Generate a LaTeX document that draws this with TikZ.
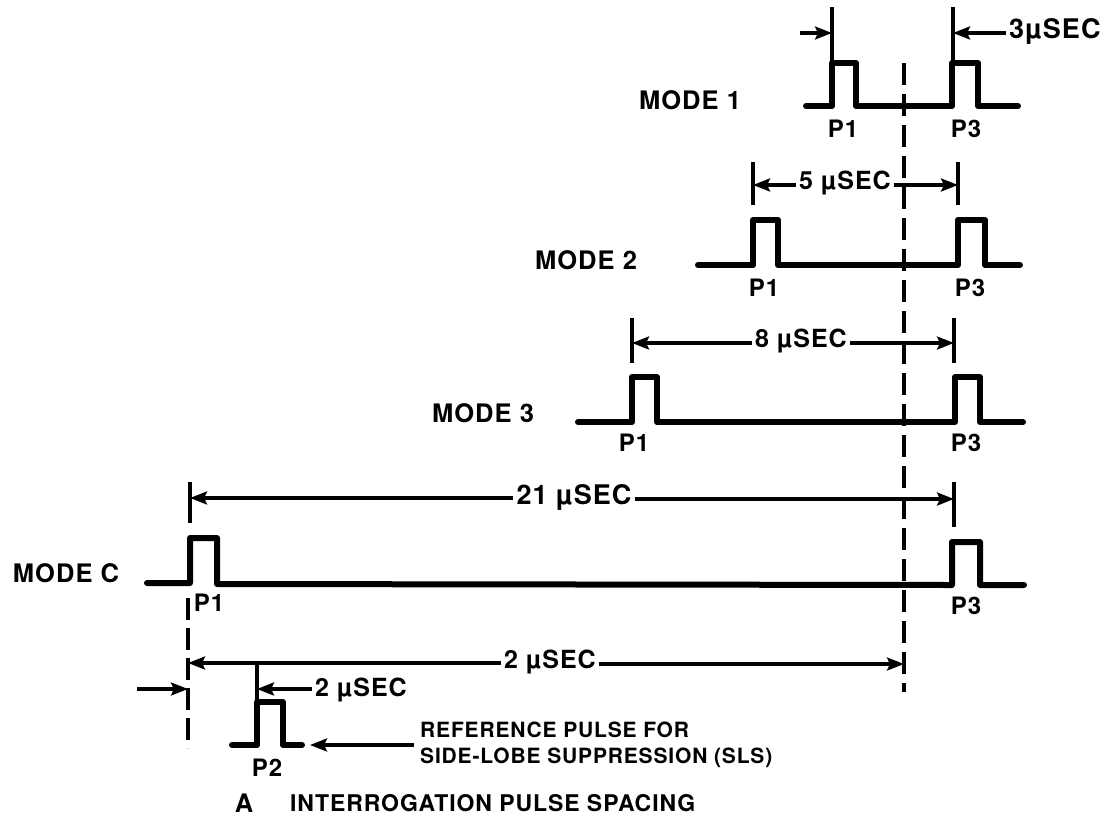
\documentclass[tikz,border=0pt]{standalone}
\usepackage{fontspec}
\setmainfont{TeX Gyre Heros}[LetterSpace=4]
\usepackage{tikz}
\usetikzlibrary{arrows.meta, positioning, calc}

\begin{document}
\begin{tikzpicture}[
  x=1pt, y=-1pt,
  font=\bfseries,
  wave/.style={line width=6pt, line cap=round, line join=round},
  ext/.style={line width=3.2pt},
  dim/.style={line width=3.2pt, -{Stealth[length=17pt, width=13pt, inset=3pt]}},
  mode/.style={inner sep=0pt, font=\fontsize{25.5}{27}\selectfont\bfseries},
  span/.style={inner sep=3pt, font=\fontsize{25}{27}\selectfont\bfseries},
  plabel/.style={inner sep=0pt, font=\fontsize{24}{26}\selectfont\bfseries}
]
  \useasboundingbox (0,0) rectangle (1116,820);

  % common reference line
  \draw[line width=3.6pt, dash pattern=on 22pt off 9pt] (904,63) -- (904,692);

  % mode 1
  \node[mode] (m1) at (690,100) {MODE 1};
  \draw[wave] (806,106) -- (832,106) -- (832,63) -- (856,63) -- (856,106)
    -- (952,106) -- (952,63) -- (978,63) -- (978,106) -- (1018,106);
  \node[plabel] (m1p1) at (843,129) {P1};
  \node[plabel] (m1p3) at (966,129) {P3};
  \coordinate (m1a) at (832,33);
  \coordinate (m1b) at (953,33);
  \coordinate (m1in) at (800,33);
  \draw[ext] (832,7) -- (832,63);
  \draw[ext] (953,7) -- (953,60);
  \draw[dim] (m1in) -- (m1a);
  \node[span, anchor=west, font=\fontsize{27}{29}\selectfont\bfseries] (t3) at (1006,31) {3µSEC};
  \draw[dim] (t3.west |- m1b) -- (m1b);

  % mode 2
  \node[mode] (m2) at (586,260) {MODE 2};
  \draw[wave] (698,265) -- (753,265) -- (753,220) -- (778,220) -- (778,265)
    -- (958,265) -- (958,220) -- (985,220) -- (985,265) -- (1020,265);
  \node[plabel] (m2p1) at (764,288) {P1};
  \node[plabel] (m2p3) at (970,288) {P3};
  \coordinate (m2a) at (753,185);
  \coordinate (m2b) at (958,185);
  \draw[ext] (753,162) -- (753,205);
  \draw[ext] (958,162) -- (958,205);
  \node[span] (t5) at (845,183) {5 µSEC};
  \draw[dim] (t5.west |- m2a) -- (m2a);
  \draw[dim] (t5.east |- m2b) -- (m2b);

  % mode 3
  \node[mode] (m3) at (483,413) {MODE 3};
  \draw[wave] (578,422) -- (632,422) -- (632,377) -- (657,377) -- (657,422)
    -- (955,422) -- (955,377) -- (980,377) -- (980,422) -- (1023,422);
  \node[plabel] (m3p1) at (634,443) {P1};
  \node[plabel] (m3p3) at (966,443) {P3};
  \coordinate (m3a) at (632,343);
  \coordinate (m3b) at (954,343);
  \draw[ext] (632,318) -- (632,363);
  \draw[ext] (954,318) -- (954,363);
  \node[span] (t8) at (801,341) {8 µSEC};
  \draw[dim] (t8.west |- m3a) -- (m3a);
  \draw[dim] (t8.east |- m3b) -- (m3b);

  % mode C
  \node[mode] (mC) at (66,573) {MODE C};
  \draw[wave] (147,583) -- (190,583) -- (190,538) -- (217,538) -- (217,584)
    -- (952,585) -- (952,542) -- (980,542) -- (980,585) -- (1024,585);
  \node[plabel] (mCp1) at (209,603) {P1};
  \node[plabel] (mCp3) at (966,606) {P3};
  \coordinate (mCa) at (190,498);
  \coordinate (mCb) at (954,499);
  \draw[ext] (190,482) -- (190,523);
  \draw[ext] (954,482) -- (954,527);
  \node[span, font=\fontsize{27}{29}\selectfont\bfseries] (t21) at (574,497) {21 µSEC};
  \draw[dim] (t21.west |- mCa) -- (mCa);
  \draw[dim] (t21.east |- mCb) -- (mCb);

  % side-lobe suppression pulse
  \draw[line width=3.2pt, dash pattern=on 22pt off 8pt] (188,598) -- (188,748);
  \coordinate (sa) at (188,663);
  \coordinate (sb) at (904,664);
  \node[span] (t2l) at (550,662) {2 µSEC};
  \draw[dim] (t2l.west |- sa) -- (sa);
  \draw[dim] (t2l.east |- sb) -- (sb);
  \coordinate (sin) at (137,689);
  \coordinate (sc) at (188,689);
  \coordinate (sd) at (257,689);
  \draw[dim] (sin) -- (sc);
  \draw[ext] (257,665) -- (257,700);
  \node[span, anchor=west] (t2s) at (312,690) {2 µSEC};
  \draw[dim] (t2s.west |- sd) -- (sd);
  \draw[wave] (232,745) -- (257,745) -- (257,702) -- (283,702) -- (283,745) -- (302,745);
  \node[plabel] (p2) at (267,768) {P2};
  \coordinate (se) at (310,745);
  \node[span, anchor=west, align=left, inner sep=0pt,
    font=\fontsize{21}{26}\selectfont\bfseries] (sls) at (420,745)
    {REFERENCE PULSE FOR\\SIDE-LOBE SUPPRESSION (SLS)};
  \draw[dim] (sls.west |- se) ++(-6,0) -- (se);

  % caption
  \node[mode] (capA) at (244,803) {A};
  \node[mode, anchor=west, font=\fontsize{23}{25}\selectfont\bfseries] (cap) at (290,803)
    {INTERROGATION PULSE SPACING};
\end{tikzpicture}
\end{document}
